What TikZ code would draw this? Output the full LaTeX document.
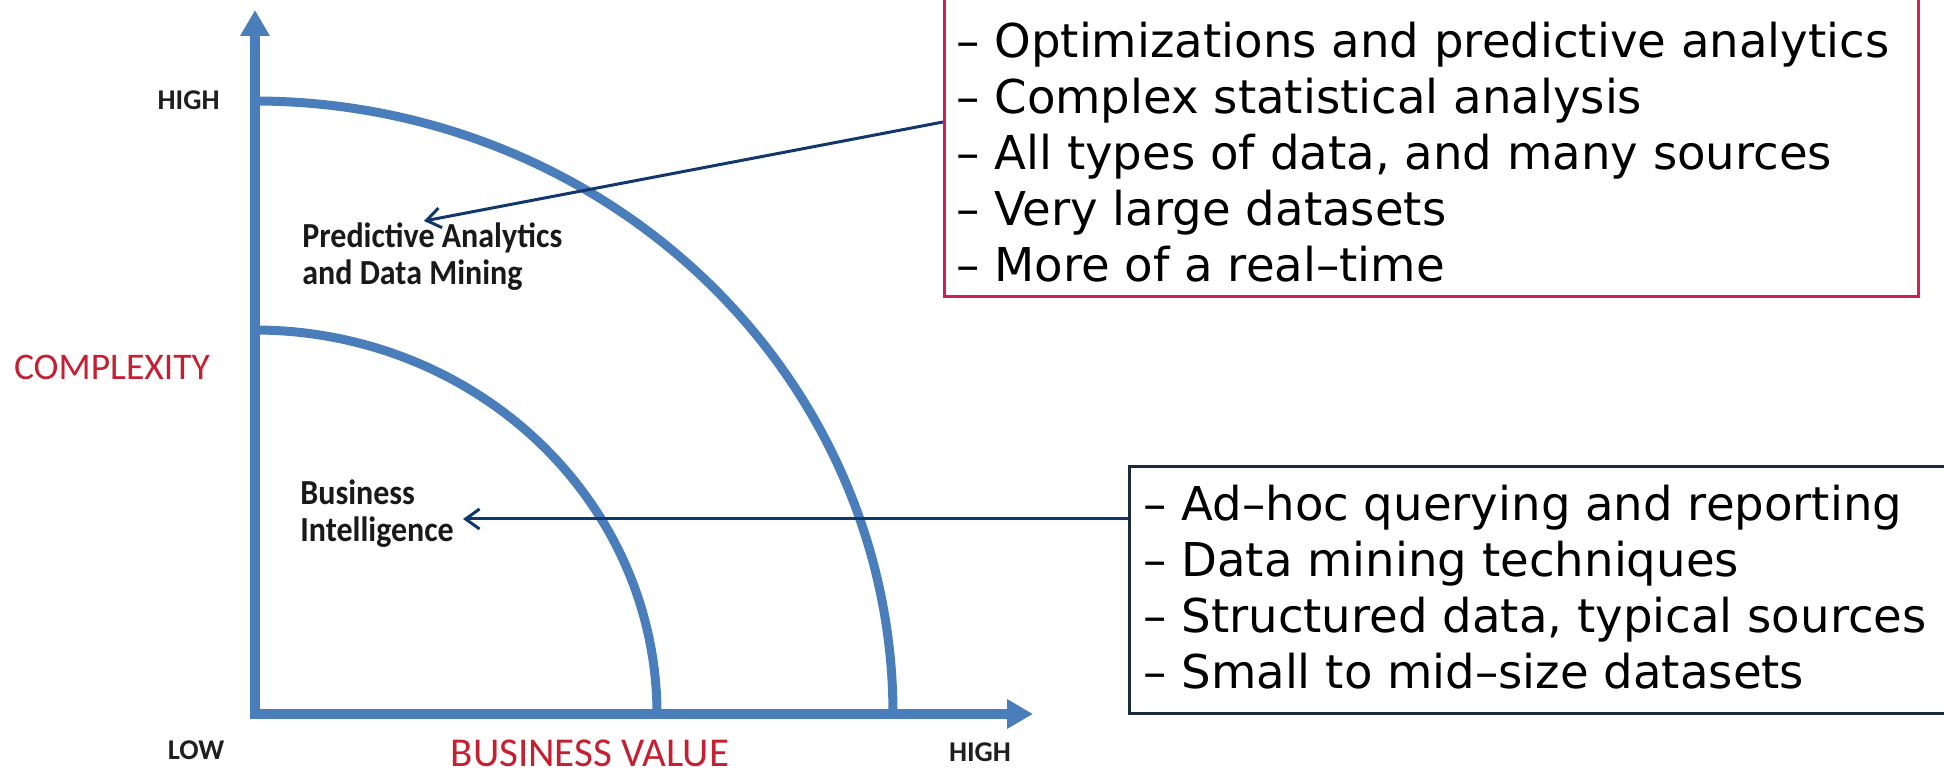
\documentclass[tikz,border=0pt]{standalone}
\usepackage{fontspec}
\usepackage{graphicx}
\setmainfont{Carlito}
\newfontfamily\listfont{DejaVu Sans}
\usetikzlibrary{arrows.meta}
\definecolor{axisblue}{RGB}{74,126,187}
\definecolor{labelred}{RGB}{196,32,50}
\definecolor{boxred}{RGB}{210,31,84}
\definecolor{arrownavy}{RGB}{18,56,107}
\definecolor{boxnavy}{RGB}{27,42,62}
% two-line region label, slightly tall like the chart's original lettering
\newcommand{\regionlabel}[2]{\scalebox{1}[1.1]{\begin{tabular}[t]{@{}l@{}}#1\\#2\end{tabular}}}
\begin{document}
\begin{tikzpicture}[x=0.5pt, y=-0.5pt,
  axis/.style={draw=axisblue, line width=5pt, line join=miter,
    {Triangle[length=13pt, width=14pt]}-{Triangle[length=13pt, width=14pt]}},
  band/.style={draw=axisblue, line width=4.5pt},
  tick/.style={font=\fontsize{14.3pt}{16pt}\selectfont\bfseries, text=black!88, inner sep=0},
  title/.style={text=labelred, inner sep=0},
  region/.style={font=\fontsize{16pt}{16.8pt}\selectfont\bfseries, inner sep=0, text=black!90},
  listbox/.style={line width=1.5pt, inner sep=0},
  listtext/.style={font=\listfont\fontsize{23.3pt}{28pt}\selectfont, align=left, inner sep=0},
  pointer/.style={draw=arrownavy, line width=1.5pt, -{Straight Barb[length=7pt, width=10pt]}}
]
\useasboundingbox (0,0) rectangle (1944,774);

% axes
\coordinate (ytip) at (255,10);
\coordinate (origin) at (255,714);
\coordinate (xtip) at (1033,714);
\draw[axis] (ytip) -- (origin) -- (xtip);

% maturity bands
\draw[band] plot[domain=0:90, samples=90, smooth] ({255+402*cos(\x)}, {714-384*sin(\x)});
\draw[band] plot[domain=0:90, samples=90, smooth] ({255+638*cos(\x)}, {714-613*sin(\x)});

% axis labels
\node[tick, anchor=east] (yhigh) at (220,100) {HIGH};
\node[title, font=\fontsize{18.8pt}{20pt}\selectfont] (ylab) at (112,367) {COMPLEXITY};
\node[tick] (xlow) at (196,750) {LOW};
\node[title, font=\fontsize{20.5pt}{22pt}\selectfont] (xlab) at (590,753) {BUSINESS VALUE};
\node[tick] (xhigh) at (980,752) {HIGH};

% regions
\node[region, anchor=base west] (pa) at (302,248) {\regionlabel{Predictive Analytics}{and Data Mining}};
\node[region, anchor=base west] (bi) at (300,505) {\regionlabel{Business}{Intelligence}};

% description boxes
\node[listbox, draw=boxred, anchor=south west, minimum width=487pt, minimum height=170pt] (pabox) at (943,298) {};
\node[listtext, anchor=north west] (patext) at (956,22) {%
– Optimizations and predictive analytics\\
– Complex statistical analysis\\
– All types of data, and many sources\\
– Very large datasets\\
– More of a real–time};

\node[listbox, draw=boxnavy, anchor=north west, minimum width=416pt, minimum height=123.5pt] (bibox) at (1128,465) {};
\node[listtext, anchor=north west] (bitext) at (1143,485) {%
– Ad–hoc querying and reporting\\
– Data mining techniques\\
– Structured data, typical sources\\
– Small to mid–size datasets};

% connectors
\coordinate (paFrom) at (0,122);
\coordinate (paTip) at (424,221);
\draw[pointer] (pabox.west |- paFrom) -- (paTip);
\coordinate (biTip) at (463,519);
\draw[pointer] (bibox.west |- biTip) -- (biTip);
\end{tikzpicture}
\end{document}
